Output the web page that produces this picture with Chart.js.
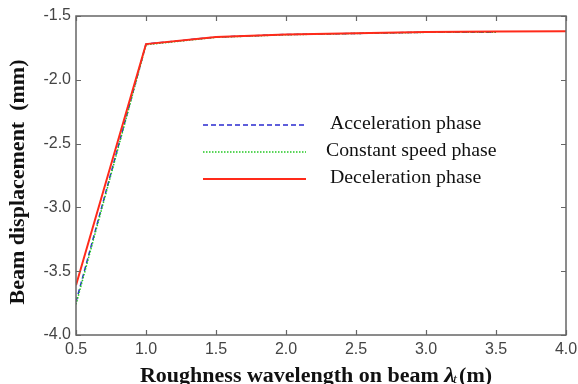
<!DOCTYPE html>
<html>
<head>
<meta charset="utf-8">
<script src="https://cdn.jsdelivr.net/npm/chart.js@4.4.0/dist/chart.umd.min.js"></script>
<style>
html,body{margin:0;padding:0;background:#fff;}
#wrap{width:578px;height:384px;position:relative;}
</style>
</head>
<body>
<div id="wrap"><canvas id="c" width="578" height="384"></canvas></div>
<script>
const wavelengths = [0.5, 1.0, 1.5, 2.0, 2.5, 3.0, 3.5, 4.0];
const accelerationPhase = [-3.74, -1.72, -1.665, -1.645, -1.637, -1.627, -1.627, null];
const constantSpeedPhase = [-3.76, -1.725, -1.667, -1.647, -1.637, -1.628, -1.628, null];
const decelerationPhase = [-3.61, -1.72, -1.665, -1.645, -1.635, -1.625, -1.622, -1.62];
const seriesLabels = ['Acceleration phase', 'Constant speed phase', 'Deceleration phase'];
const xTicks = [0.5, 1.0, 1.5, 2.0, 2.5, 3.0, 3.5, 4.0];
const yTicks = [-4.0, -3.5, -3.0, -2.5, -2.0, -1.5];
const xTitleParts = ['Roughness wavelength on beam ', 'λ', 't', '(m)'];
const yTitle = 'Beam displacement  (mm)';

function pts(arr){ return wavelengths.map((x,i)=>({x:x,y:arr[i]})).filter(p=>p.y!==null); }

const SX = 1.1; // horizontal stretch of the original's text

const boxPlugin = {
  id:'box',
  afterDatasetsDraw(chart){
    const ctx = chart.ctx, a = chart.chartArea;
    const xs = chart.scales.x, ys = chart.scales.y;
    ctx.save();
    ctx.strokeStyle = '#666';
    ctx.lineWidth = 1.5;
    ctx.strokeRect(a.left, a.top, a.right-a.left, a.bottom-a.top);
    ctx.lineWidth = 1.2;
    ctx.beginPath();
    xTicks.forEach(v=>{
      const px = Math.round(xs.getPixelForValue(v))+0.5;
      ctx.moveTo(px, a.bottom); ctx.lineTo(px, a.bottom-5);
      ctx.moveTo(px, a.top); ctx.lineTo(px, a.top+5);
    });
    yTicks.forEach(v=>{
      const py = Math.round(ys.getPixelForValue(v))+0.5;
      ctx.moveTo(a.left, py); ctx.lineTo(a.left+5, py);
      ctx.moveTo(a.right, py); ctx.lineTo(a.right-5, py);
    });
    ctx.stroke();

    // legend
    const ds = chart.data.datasets;
    const ly = [125, 152, 179];
    ds.forEach((d,i)=>{
      ctx.save();
      ctx.strokeStyle = d.borderColor;
      ctx.lineWidth = d.borderWidth;
      ctx.setLineDash(d.borderDash || []);
      ctx.beginPath();
      ctx.moveTo(203, ly[i]); ctx.lineTo(306, ly[i]);
      ctx.stroke();
      ctx.restore();
      ctx.save();
      ctx.fillStyle = '#111';
      ctx.font = '18px "Liberation Serif", "Times New Roman", serif';
      ctx.textBaseline = 'alphabetic';
      ctx.textAlign = 'left';
      ctx.translate(i===1 ? 326 : 330, ly[i]+4);
      ctx.scale(SX, 1);
      ctx.fillText(d.label, 0, 0);
      ctx.restore();
    });

    // x title
    ctx.fillStyle = '#111';
    ctx.textBaseline = 'alphabetic';
    ctx.textAlign = 'left';
    const f1 = 'bold 20px "Liberation Serif", serif';
    const f2 = 'bold italic 22px "Liberation Serif", serif';
    const f3 = 'italic 13px "Liberation Serif", serif';
    ctx.font = f1; const w0 = ctx.measureText(xTitleParts[0]).width;
    ctx.font = f2; const w1 = ctx.measureText(xTitleParts[1]).width;
    ctx.font = f3; const w2 = ctx.measureText(xTitleParts[2]).width;
    ctx.font = f1; const w3 = ctx.measureText(xTitleParts[3]).width;
    const total = (w0+w1+w2+w3)*SX;
    ctx.save();
    ctx.translate(316 - total/2, 382);
    ctx.scale(SX, 1);
    let x = 0;
    ctx.font = f1; ctx.fillText(xTitleParts[0], x, 0); x += w0;
    ctx.font = f2; ctx.fillText(xTitleParts[1], x, 0); x += w1;
    ctx.font = f3; ctx.fillText(xTitleParts[2], x-2, 1); x += w2;
    ctx.font = f1; ctx.fillText(xTitleParts[3], x, 0);
    ctx.restore();

    // y title
    ctx.save();
    ctx.translate(19, 182);
    ctx.rotate(-Math.PI/2);
    ctx.scale(SX, 1);
    ctx.font = 'bold 20px "Liberation Serif", serif';
    ctx.textAlign = 'center';
    ctx.textBaseline = 'middle';
    ctx.fillText(yTitle, 0, 0);
    ctx.restore();
    ctx.restore();
  }
};

new Chart(document.getElementById('c'), {
  type:'line',
  data:{
    datasets:[
      {label:seriesLabels[0], data:pts(accelerationPhase), borderColor:'#2a2ad0', borderWidth:1.5, borderDash:[5,3], pointRadius:0, fill:false, tension:0, order:2},
      {label:seriesLabels[1], data:pts(constantSpeedPhase), borderColor:'#22c822', borderWidth:1.5, borderDash:[1.5,1.5], pointRadius:0, fill:false, tension:0, order:1},
      {label:seriesLabels[2], data:pts(decelerationPhase), borderColor:'#ff2a1a', borderWidth:2, pointRadius:0, fill:false, tension:0, order:0}
    ]
  },
  options:{
    responsive:false,
    animation:false,
    devicePixelRatio:1,
    layout:{padding:{left:0, top:16, right:12, bottom:0}},
    plugins:{legend:{display:false}, tooltip:{enabled:false}},
    scales:{
      x:{
        type:'linear', min:0.5, max:4.0,
        afterBuildTicks(s){ s.ticks = xTicks.map(v=>({value:v})); },
        afterFit(s){ s.height = 49; s.paddingLeft = 0; s.paddingRight = 0; },
        grid:{display:false, drawTicks:false},
        border:{display:false},
        ticks:{padding:5, color:'#444', font:{family:'"Liberation Sans", Arial, sans-serif', size:16}, callback:v=>v.toFixed(1), maxRotation:0, autoSkip:false}
      },
      y:{
        type:'linear', min:-4.0, max:-1.5,
        afterBuildTicks(s){ s.ticks = yTicks.map(v=>({value:v})); },
        afterFit(s){ s.width = 76; s.paddingTop = 0; s.paddingBottom = 0; },
        grid:{display:false, drawTicks:false},
        border:{display:false},
        ticks:{padding:5, color:'#444', font:{family:'"Liberation Sans", Arial, sans-serif', size:16}, callback:v=>v.toFixed(1), autoSkip:false}
      }
    }
  },
  plugins:[boxPlugin]
});
</script>
</body>
</html>
